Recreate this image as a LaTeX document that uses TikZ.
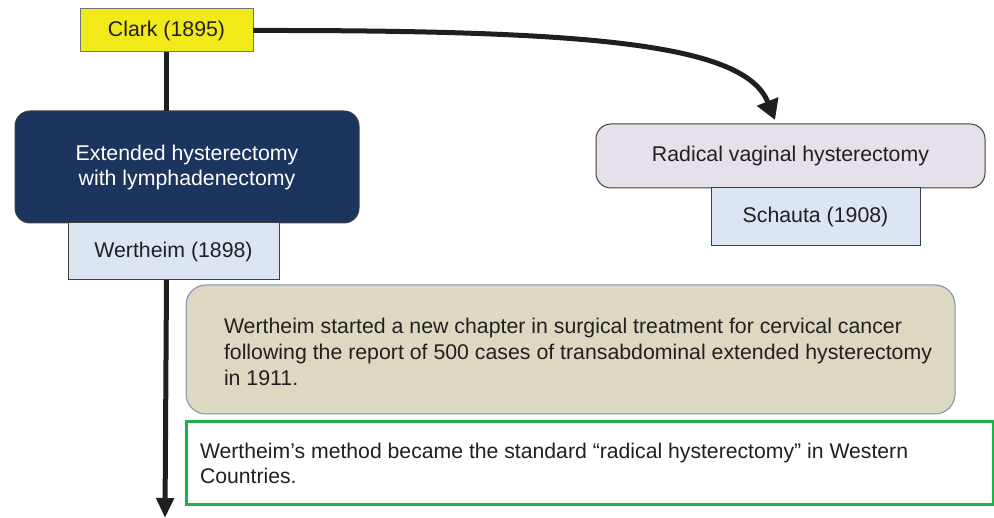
\documentclass[tikz,border=0pt]{standalone}
\usepackage{fontspec}
\setmainfont{Liberation Sans}
\usetikzlibrary{arrows.meta}
\definecolor{clarkY}{HTML}{F2EA18}
\definecolor{navy}{HTML}{1C355E}
\definecolor{paleblue}{HTML}{DCE6F2}
\definecolor{lavender}{HTML}{E6E0EB}
\definecolor{tan}{HTML}{DDD8C2}
\definecolor{tanedge}{HTML}{8090AA}
\definecolor{gbox}{HTML}{22B04B}
\definecolor{txt}{HTML}{231F20}
\tikzset{
  base/.style={inner sep=0pt, outer sep=0pt, font=\fontsize{21.3}{25}\selectfont, text=txt},
  boxrect/.style={base, draw=black!75, line width=1pt, anchor=north west},
  conn/.style={line width=5pt, draw=black!88},
}
\begin{document}
\begin{tikzpicture}[x=1pt,y=-1pt]
\useasboundingbox (0,0) rectangle (994,518);
% boxes
\node[boxrect, fill=clarkY, draw=black!55, minimum width=173pt, minimum height=43pt] (clark) at (80,9) {Clark (1895)};
\node[boxrect, fill=navy, rounded corners=15pt, minimum width=344pt, minimum height=112pt, text=white, align=center] (ext) at (15,111) {Extended hysterectomy\\with lymphadenectomy};
\node[boxrect, fill=paleblue, minimum width=211pt, minimum height=57pt] (wert) at (68,223) {Wertheim (1898)};
\node[boxrect, fill=lavender, rounded corners=15pt, minimum width=389pt, minimum height=64pt] (rad) at (596,124) {Radical vaginal hysterectomy};
\node[boxrect, fill=paleblue, minimum width=209pt, minimum height=58pt] (sch) at (711,188) {Schauta (1908)};
\node[boxrect, fill=tan, draw=tanedge, rounded corners=20pt, minimum width=769pt, minimum height=129pt] (tanbox) at (186,285) {};
\node[base, anchor=north west, align=left, font=\fontsize{21.3}{25.8}\selectfont] (tantext) at (224,318) {Wertheim started a new chapter in surgical treatment for cervical cancer\\following the report of 500 cases of transabdominal extended hysterectomy\\in 1911.};
\node[boxrect, draw=gbox, line width=3pt, fill=white, minimum width=807pt, minimum height=83pt] (green) at (186,422) {};
\node[base, anchor=north west, align=left, font=\fontsize{21.2}{25}\selectfont] (greentext) at (200,443) {Wertheim’s method became the standard “radical hysterectomy” in Western\\Countries.};
% connectors
\coordinate (bottom) at (165,518);
\draw[conn] (clark.south) -- (ext.north -| clark.south);
\draw[conn, -{Triangle[width=17pt,length=20pt]}] (wert.south -| clark.south) -- (bottom);
\draw[conn, -{Triangle[width=22pt,length=20pt]}] (clark.east) .. controls (600,30) and (745,45) .. (775,120);
\end{tikzpicture}
\end{document}
